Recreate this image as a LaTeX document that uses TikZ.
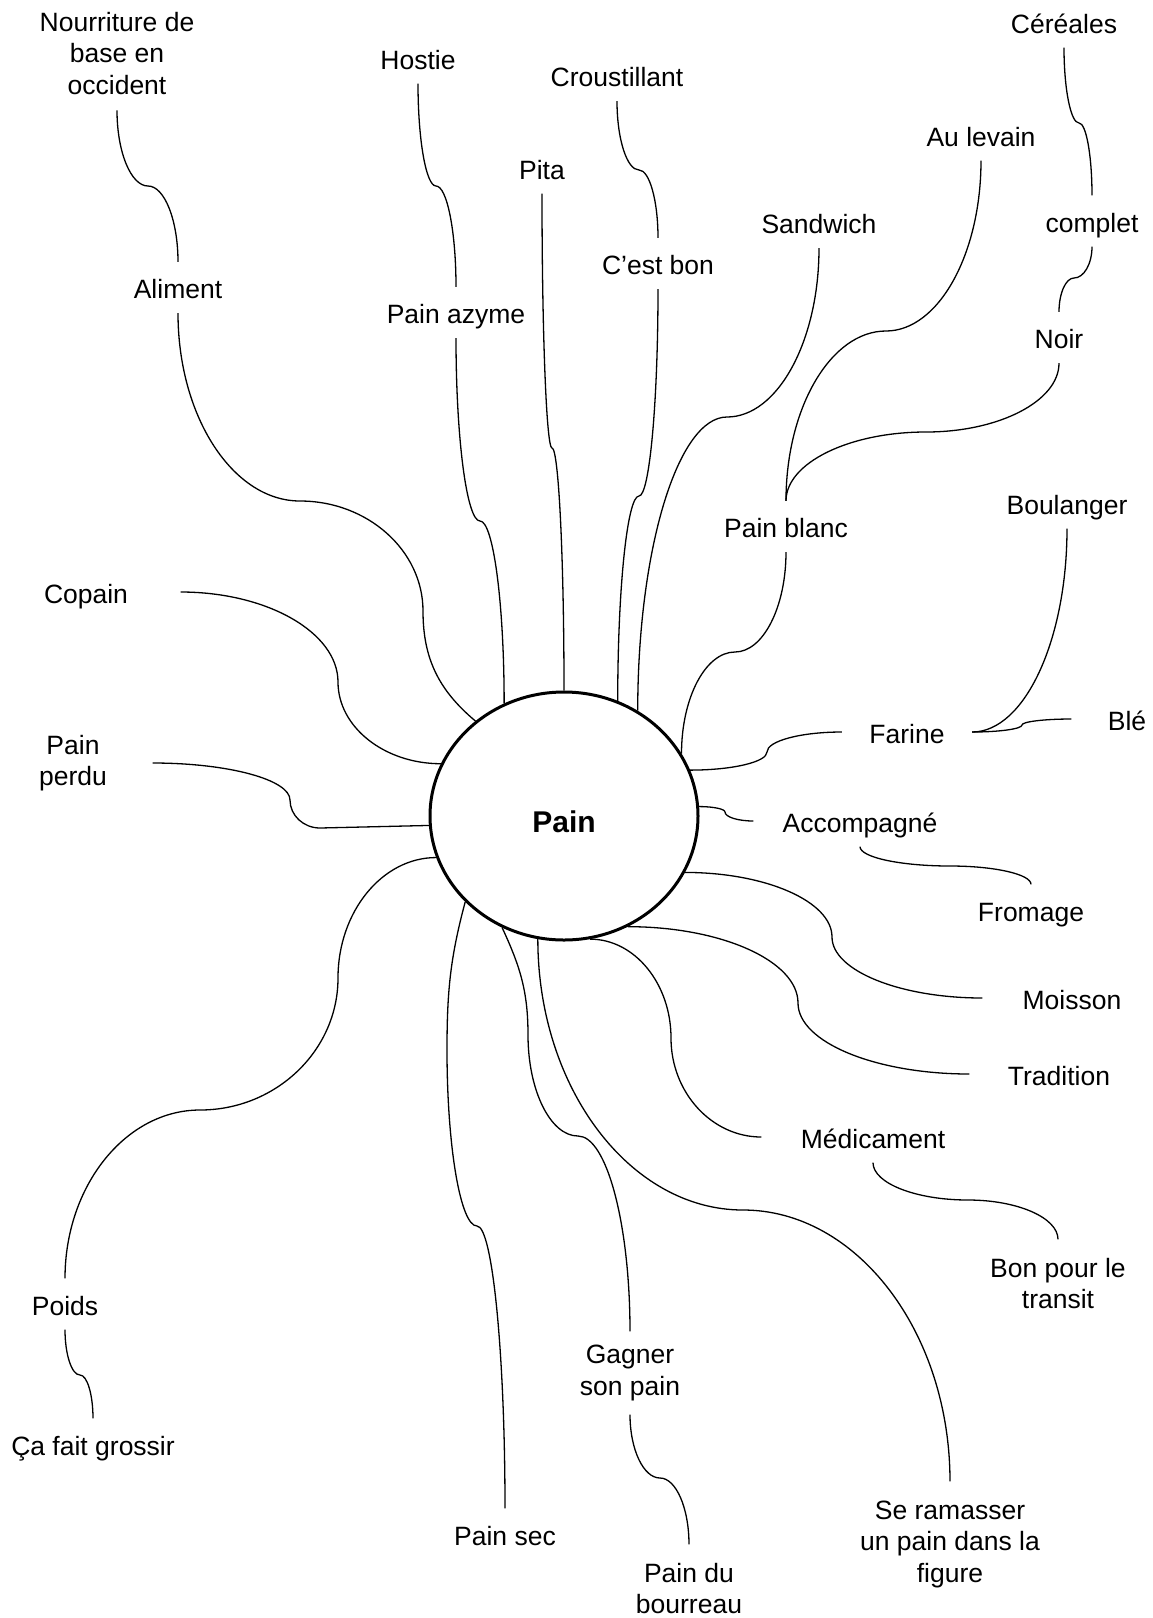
\documentclass[tikz,border=0pt]{standalone}
\usepackage{fontspec}
\setmainfont{Liberation Sans}
\usetikzlibrary{calc,shapes.geometric}

\begin{document}
\begin{tikzpicture}[x=1pt, y=1pt, line width=1.3pt,
  word/.style={font=\fontsize{26.5}{31.5}\selectfont, inner sep=0pt, text height=24pt, text depth=2pt, minimum height=50pt},
  words/.style={font=\fontsize{26.5}{31.5}\selectfont, inner sep=0pt, align=center},
  hub/.style={draw, ellipse, line width=3pt, inner sep=0pt, minimum width=268pt, minimum height=248pt, font=\fontsize{30}{36}\selectfont\bfseries, text height=34pt},
  vknee/.style={to path={.. controls ($(\tikztostart)!0.55!(\tikztostart|-\tikztotarget)$) and ($(\tikztotarget)!0.55!(\tikztostart|-\tikztotarget)$) .. (\tikztotarget)}},
  hknee/.style={to path={.. controls ($(\tikztostart)!0.55!(\tikztotarget|-\tikztostart)$) and ($(\tikztotarget)!0.55!(\tikztotarget|-\tikztostart)$) .. (\tikztotarget)}}]
  \useasboundingbox (0, 0) rectangle (1153, -1618);

  \node (pain) at (564, -816) [hub] {Pain};

  \node (nourriture) at (117, -53.3) [words, minimum height=113pt] {Nourriture de\\base en\\occident};
  \node (aliment) at (178, -287.5) [word] {Aliment};
  \node (hostie) at (418, -58) [word] {Hostie};
  \node (azyme) at (456, -312.5) [word] {Pain azyme};
  \node (pita) at (542, -168) [word] {Pita};
  \node (croustillant) at (617, -75.5) [word] {Croustillant};
  \node (bon) at (658, -263.5) [word] {C’est bon};
  \node (sandwich) at (819, -222.5) [word] {Sandwich};
  \node (levain) at (981, -135) [word] {Au levain};
  \node (cereales) at (1064, -22) [word] {Céréales};
  \node (complet) at (1092, -221) [word] {complet};
  \node (noir) at (1059, -337.5) [word] {Noir};
  \node (blanc) at (786, -526.5) [word] {Pain blanc};
  \node (boulanger) at (1067, -503) [word] {Boulanger};
  \node (farine) at (907, -732) [word, minimum width=129pt] {Farine};
  \node (ble) at (1127, -719) [word, minimum width=110pt] {Blé};
  \node (copain) at (86, -592) [word, minimum width=188pt] {Copain};
  \node (perdu) at (73, -763) [words, minimum width=158pt] {Pain\\perdu};
  \node (accomp) at (860, -821) [word, minimum width=212pt] {Accompagné};
  \node (fromage) at (1031, -910) [word] {Fromage};
  \node (moisson) at (1072, -998) [word, minimum width=178pt] {Moisson};
  \node (tradition) at (1059, -1074) [word, minimum width=178pt] {Tradition};
  \node (medicament) at (873, -1137) [word, minimum width=222pt] {Médicament};
  \node (transit) at (1058, -1283.5) [words, minimum height=87pt] {Bon pour le\\transit};
  \node (poids) at (65, -1304) [word] {Poids};
  \node (grossir) at (93, -1444) [word] {Ça fait grossir};
  \node (sec) at (505, -1534) [word] {Pain sec};
  \node (gagner) at (630, -1373) [words, minimum height=82pt] {Gagner\\son pain};
  \node (bourreau) at (689, -1588.6) [words, minimum height=87pt] {Pain du\\bourreau};
  \node (ramasser) at (950, -1544) [words, minimum height=124pt] {Se ramasser\\un pain dans la\\figure};

  \draw (pain.133) to[out=140, in=-90] (423, -611) to[vknee] (300, -501) to[hknee] (aliment.south);
  \draw (aliment.north) to[vknee] (148, -186) to[hknee] (nourriture.south);
  \draw (pain.118) to[vknee] (480, -521) to[hknee] (azyme.south);
  \draw (azyme.north) to[vknee] (436, -186) to[hknee] (hostie.south);
  \draw (pain.90) to[vknee] (552, -448) to[hknee] (pita.south);
  \draw (pain.65) to[vknee] (639, -496) to[hknee] (bon.south);
  \draw (bon.north) to[vknee] (639, -170) to[hknee] (croustillant.south);
  \draw (pain.55) to[vknee] (727, -417) to[hknee] (sandwich.south);
  \draw (pain.28) to[vknee] (735, -652) to[hknee] (blanc.south);
  \draw (blanc.north) to[vknee] (886, -331) to[hknee] (levain.south);
  \draw (blanc.north) to[vknee] (926, -432) to[hknee] (noir.south);
  \draw (noir.north) to[vknee] (1074, -278) to[hknee] (complet.south);
  \draw (complet.north) to[vknee] (1079, -123) to[hknee] (cereales.south);
  \draw (pain.20) to[hknee] (767, -752) to[vknee] (farine.west);
  \draw (farine.east) to[hknee] (boulanger.south);
  \draw (farine.east) to[hknee] (1022, -725) to[vknee] (ble.west);
  \draw (pain.4) to[hknee] (725, -812) to[vknee] (accomp.west);
  \draw (accomp.south) to[vknee] (950, -866) to[hknee] (fromage.north);
  \draw (pain.335) to[hknee] (832, -937) to[vknee] (moisson.west);
  \draw (pain.300) to[hknee] (798, -1003) to[vknee] (tradition.west);
  \draw (pain.282) to[hknee] (671, -1038) to[vknee] (medicament.west);
  \draw (medicament.south) to[vknee] (968, -1200) to[hknee] (transit.north);
  \draw (pain.258) to[vknee] (743, -1210) to[hknee] (ramasser.north);
  \draw (pain.241) to[out=-65, in=90] (528, -1035) to[vknee] (578, -1136) to[hknee] (gagner.north);
  \draw (gagner.south) to[vknee] (660, -1478) to[hknee] (bourreau.north);
  \draw (pain.221) to[out=-105, in=90] (447, -1050) to[vknee] (477, -1226) to[hknee] (sec.north);
  \draw (pain.198) to[hknee] (338, -978) to[vknee] (200, -1110) to[hknee] (poids.north);
  \draw (poids.south) to[vknee] (80, -1375) to[hknee] (grossir.north);
  \draw (pain.184) -- (320, -828) to[hknee] (290, -800) to[vknee] (perdu.east);
  \draw (pain.157) to[hknee] (338, -682) to[vknee] (copain.east);
\end{tikzpicture}
\end{document}
